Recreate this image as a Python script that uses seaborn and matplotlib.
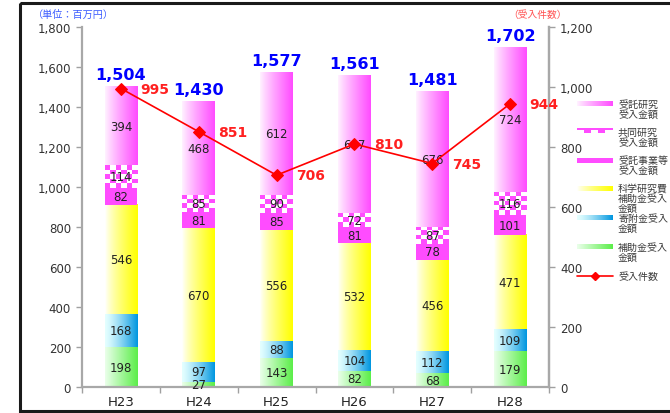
import numpy as np
import pandas as pd
import matplotlib
matplotlib.use("Agg")
import matplotlib.pyplot as plt
import seaborn as sns
from matplotlib.colors import to_rgb
from matplotlib.patches import Rectangle
from matplotlib.ticker import FuncFormatter, FixedLocator
from matplotlib.lines import Line2D

# ---------------- data ----------------
years = ["H23", "H24", "H25", "H26", "H27", "H28"]
hojokin = [198, 27, 143, 82, 68, 179]          # 補助金受入金額
kifukin = [168, 97, 88, 104, 112, 109]         # 寄附金受入金額
kaken = [546, 670, 556, 532, 456, 471]         # 科学研究費補助金受入金額
jutaku_jigyo = [82, 81, 85, 81, 78, 101]       # 受託事業等受入金額
kyodo = [114, 85, 90, 72, 87, 116]             # 共同研究受入金額
jutaku_kenkyu = [394, 468, 612, 687, 676, 724]  # 受託研究受入金額
totals = [1504, 1430, 1577, 1561, 1481, 1702]
counts = [995, 851, 706, 810, 745, 944]        # 受入件数

legend_labels = [
    ["受託研究", "受入金額"],
    ["共同研究", "受入金額"],
    ["受託事業等", "受入金額"],
    ["科学研究費", "補助金受入", "金額"],
    ["寄附金受入", "金額"],
    ["補助金受入", "金額"],
    ["受入件数"],
]

sns.set_theme(style="white")
plt.rcParams["font.family"] = ["DejaVu Sans", "Noto Sans CJK JP"]
CJK = ["Noto Sans CJK JP", "DejaVu Sans"]

W, H = 670, 414
fig = plt.figure(figsize=(6.7, 4.14), dpi=100)
fig.patch.set_facecolor("white")

axL, axR, axT, axB = 82, 549, 28, 388
ax = fig.add_axes([axL / W, 1 - axB / H, (axR - axL) / W, (axB - axT) / H])
ax.set_facecolor("none")

MAG = "#ff4cff"
grads = {
    "green": ("#eaffea", "#5cee4a", 1.0),
    "cyan": ("#e4ffff", "#0096e0", 1.3),
    "yellow": ("#ffffff", "#ffff00", 0.8),
    "mag": ("#fff2ff", MAG, 0.9),
}


def grad_img(key, n=64):
    c0, c1, g = grads[key]
    t = np.linspace(0, 1, n) ** g
    a, b = np.array(to_rgb(c0)), np.array(to_rgb(c1))
    return (a[None, :] * (1 - t[:, None]) + b[None, :] * t[:, None])[None, :, :]


def checker_img(ncols, nrows, color):
    c = np.array(to_rgb(color))
    arr = np.ones((nrows, ncols, 3))
    for i in range(nrows):
        for j in range(ncols):
            if (i + j) % 2 == 0:
                arr[i, j] = c
    return arr


x = np.arange(len(years))
bw = 0.42
stack = [
    (hojokin, "green"),
    (kifukin, "cyan"),
    (kaken, "yellow"),
    (jutaku_jigyo, "solid"),
    (kyodo, "checker"),
    (jutaku_kenkyu, "mag"),
]
bottom = np.zeros(len(years))
for vals, style in stack:
    bars = ax.bar(x, vals, bw, bottom=bottom, facecolor="none", edgecolor="none", zorder=1)
    for p, v in zip(bars.patches, vals):
        x0, x1 = p.get_x(), p.get_x() + p.get_width()
        y0, y1 = p.get_y(), p.get_y() + p.get_height()
        if style == "solid":
            ax.add_patch(Rectangle((x0, y0), x1 - x0, y1 - y0, facecolor=MAG, edgecolor="none", zorder=2))
        elif style == "checker":
            nrows = max(2, int(round((y1 - y0) / 24)))
            ax.imshow(checker_img(6, nrows, MAG), extent=(x0, x1, y0, y1), aspect="auto",
                      interpolation="nearest", zorder=2)
        else:
            ax.imshow(grad_img(style), extent=(x0, x1, y0, y1), aspect="auto",
                      interpolation="bilinear", zorder=2)
        ax.text((x0 + x1) / 2, (y0 + y1) / 2, f"{v}", ha="center", va="center",
                fontsize=8.5, color="#222222", zorder=5)
    bottom = bottom + np.array(vals)

for xi, t in zip(x, totals):
    ax.annotate(f"{t:,}", (xi, bottom[xi]), xytext=(0, 3), textcoords="offset points",
                ha="center", va="bottom", fontsize=11.5, fontweight="bold", color="#0000ff", zorder=6)

ax.set_xlim(-0.5, len(years) - 0.5)
ax.set_ylim(0, 1800)
ax.yaxis.set_major_locator(FixedLocator(np.arange(0, 1801, 200)))
ax.yaxis.set_major_formatter(FuncFormatter(lambda v, p: f"{int(v):,}"))
ax.set_xticks(x)
ax.set_xticklabels(years)
ax.set_xticks(np.arange(-0.5, len(years), 1.0), minor=True)
ax.tick_params(axis="x", which="major", length=0, pad=6, labelsize=9.5, labelcolor="#222222")
ax.tick_params(axis="x", which="minor", length=4, color="#a0a0a0", width=1, direction="out", bottom=True)
ax.tick_params(axis="y", length=4, color="#a0a0a0", width=1, direction="out", left=True,
               labelsize=8.5, labelcolor="#333333", pad=4)
ax.spines["top"].set_visible(False)
for s in ["left", "bottom", "right"]:
    ax.spines[s].set_color("#a8a8a8")
    ax.spines[s].set_linewidth(1.6)
ax.grid(False)

# ---------------- count line ----------------
ax2 = ax.twinx()
df = pd.DataFrame({"x": x, "count": counts})
sns.lineplot(data=df, x="x", y="count", ax=ax2, color="#ff0000", linewidth=1.2,
             marker="D", markersize=6, markeredgecolor="#ff0000", zorder=10)
for xi, c in zip(x, counts):
    ax2.annotate(f"{c}", (xi, c), xytext=(14, 0), textcoords="offset points",
                 ha="left", va="center", fontsize=10, fontweight="bold", color="#ff2020", zorder=11)
ax2.set_ylim(0, 1200)
ax2.set_xlim(-0.5, len(years) - 0.5)
ax2.yaxis.set_major_locator(FixedLocator(np.arange(0, 1201, 200)))
ax2.yaxis.set_major_formatter(FuncFormatter(lambda v, p: f"{int(v):,}"))
ax2.tick_params(axis="y", length=4, color="#a0a0a0", width=1, direction="out", right=True,
                labelsize=8.5, labelcolor="#333333", pad=4)
ax2.set_xlabel("")
ax2.set_ylabel("")
ax.set_xlabel("")
ax.set_ylabel("")
for s in ["top", "left", "bottom"]:
    ax2.spines[s].set_visible(False)
ax2.spines["right"].set_color("#a8a8a8")
ax2.spines["right"].set_linewidth(1.6)
ax2.grid(False)

# ---------------- overlay: frame, units, legend ----------------
ov = fig.add_axes([0, 0, 1, 1], zorder=20)
ov.set_axis_off()
ov.add_patch(Rectangle((20, 4), 700, 408, facecolor="none", edgecolor="#1a1a1a", linewidth=2.2))
ov.text(33, 15, "（単位：百万円）", family=CJK, fontsize=7.3, color="#3c5cff", va="center", ha="left")
ov.text(508, 15, "（受入件数）", family=CJK, fontsize=7, color="#ff5050", va="center", ha="left")

sx0, sx1 = 577, 613
sw_y = [105, 133, 161, 189, 219, 248]
sw_style = ["mag", "checker", "solid", "yellow", "cyan", "green"]
for yy, st in zip(sw_y, sw_style):
    if st == "solid":
        ov.add_patch(Rectangle((sx0, yy - 2.5), sx1 - sx0, 5, facecolor=MAG, edgecolor="none"))
    elif st == "checker":
        ov.add_patch(Rectangle((sx0, yy - 4), sx1 - sx0, 1.5, facecolor=MAG, edgecolor="none"))
        for bx in [sx0 + 7, sx0 + 21]:
            ov.add_patch(Rectangle((bx, yy - 3), 7, 3.5, facecolor=MAG, edgecolor="none"))
    else:
        ov.imshow(grad_img(st), extent=(sx0, sx1, yy + 2.5, yy - 2.5), aspect="auto",
                  interpolation="bilinear")
ov.add_line(Line2D([sx0, sx1], [277, 277], color="#ff0000", linewidth=1.2))
ov.add_line(Line2D([(sx0 + sx1) / 2], [277], marker="D", markersize=4, color="#ff0000", linestyle="None"))

text_y = [105, 133, 161, 189, 219, 248, 277]
for ty, lines in zip(text_y, legend_labels):
    for k, ln in enumerate(lines):
        ov.text(618, ty + k * 10, ln, family=CJK, fontsize=7.2, color="#3a3a3a", va="center", ha="left")

ov.set_xlim(0, W)
ov.set_ylim(H, 0)

fig.savefig("out.png", dpi=100)
